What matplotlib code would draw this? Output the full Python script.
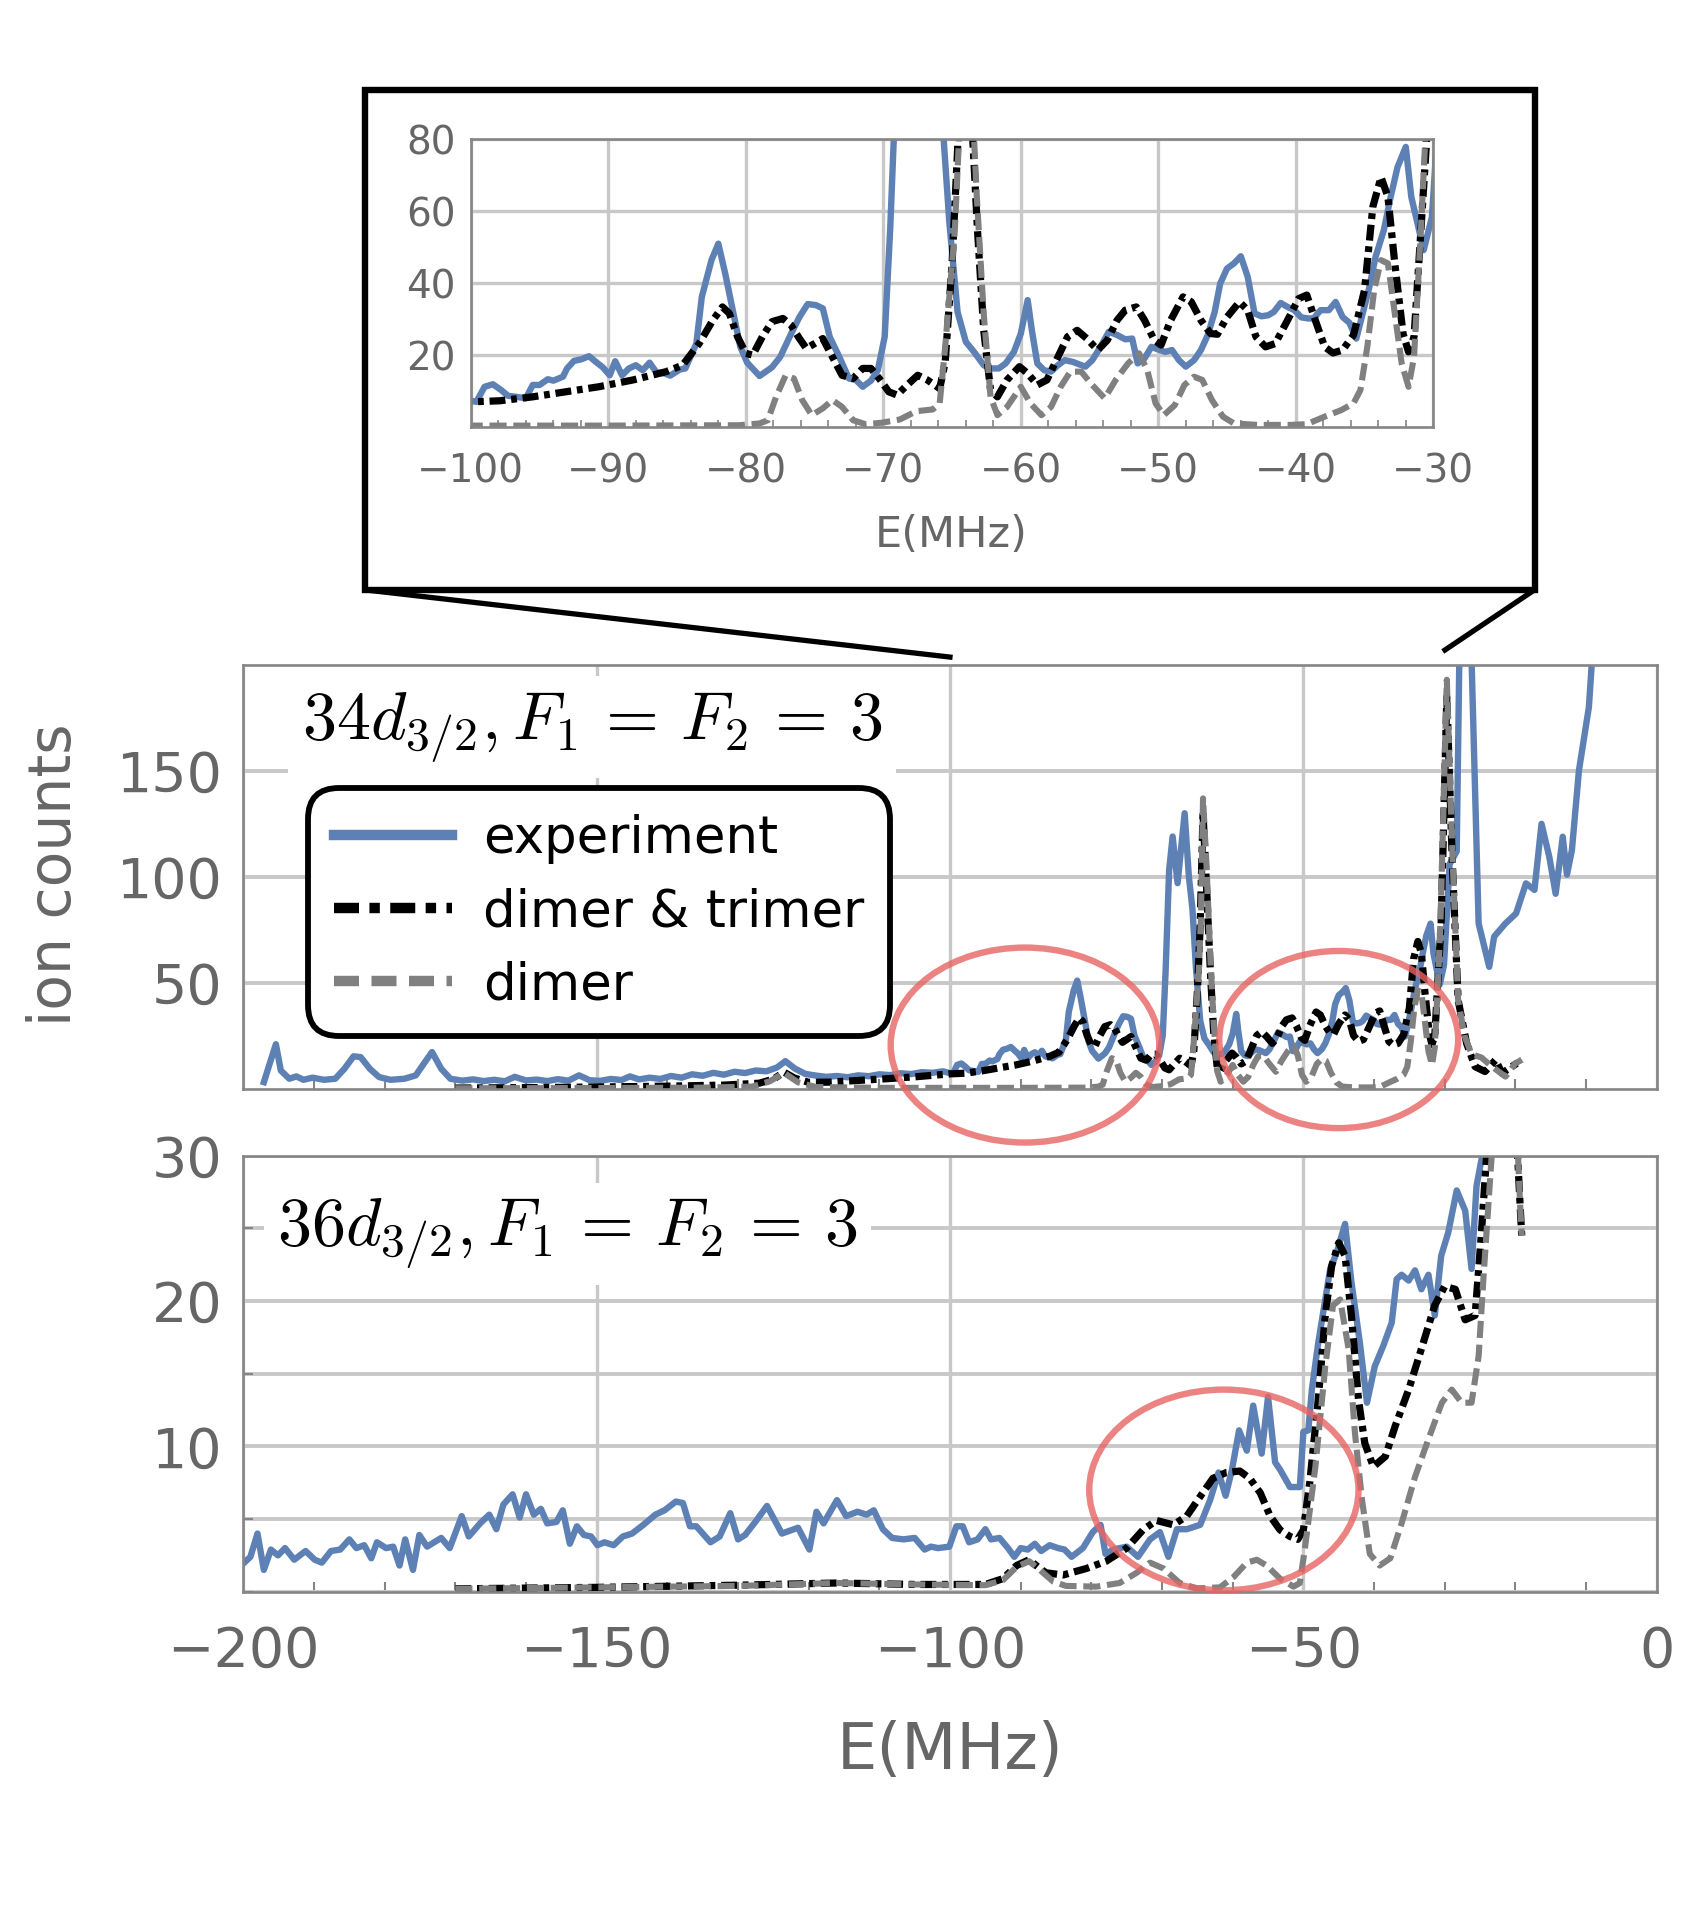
import matplotlib
matplotlib.use('Agg')
from matplotlib import pyplot as plt
from matplotlib.lines import Line2D
from matplotlib.patches import Ellipse, Rectangle
from matplotlib.ticker import MultipleLocator

plt.rcParams['font.family'] = ['DejaVu Sans']
plt.rcParams['mathtext.fontset'] = 'cm'

# 34d_{3/2} experiment (MHz, ion counts)
exp34_x = [-197.1, -195.4, -194.7, -193.5, -192.5, -191.5, -190.2, -188.6, -187.0, -185.7,
           -184.4, -183.4, -182.1, -180.8, -179.2, -177.2, -175.6, -174.3, -173.3, -172.0,
           -170.7, -169.0, -167.5, -166.0, -164.5, -163.0, -161.6, -160.0, -158.5, -157.0,
           -155.5, -154.0, -152.5, -151.0, -149.5, -148.0, -146.5, -145.3, -144.0, -142.5,
           -141.0, -139.5, -138.0, -136.5, -135.0, -133.5, -132.0, -130.5, -129.0, -127.5,
           -126.0, -124.5, -123.3, -122.0, -120.5, -119.0, -117.5, -116.0, -114.5, -113.0,
           -111.5, -110.0, -108.5, -107.0, -105.5, -104.0, -102.5, -101.0,
           -99.6, -99.0, -98.4, -97.8, -97.3, -96.7, -96.0, -95.5, -95.0, -94.4,
           -94.0, -93.3, -93.0, -92.5, -92.0, -91.4, -90.9, -90.4, -89.9, -89.5,
           -89.0, -88.5, -88.0, -87.5, -87.0, -86.5, -85.9, -85.5, -84.8, -84.4,
           -83.6, -83.2, -82.5, -82.0, -81.5, -81.0, -80.4, -79.9, -79.0, -78.1,
           -77.5, -76.7, -76.1, -75.5, -74.9, -74.4, -73.9, -73.2, -72.5, -72.0,
           -71.5, -70.9, -70.4, -69.9, -69.5, -69.0, -68.5, -67.8, -66.8, -66.2,
           -65.7, -65.2, -64.6, -64.0, -63.4, -62.7, -62.2, -61.6, -61.1, -60.5,
           -60.0, -59.5, -59.2, -58.8, -58.3, -57.8, -57.3, -56.8, -56.2, -55.8,
           -55.3, -54.8, -54.2, -53.6, -53.0, -52.4, -51.9, -51.5, -51.0, -50.5,
           -50.1, -49.5, -49.0, -48.5, -48.0, -47.4, -46.9, -46.4, -45.9, -45.5,
           -45.0, -44.5, -44.0, -43.5, -43.0, -42.5, -42.0, -41.6, -41.1, -40.6,
           -40.1, -39.6, -39.1, -38.7, -38.2, -37.6, -37.1, -36.6, -36.1, -35.6,
           -35.2, -34.7, -34.2, -33.6, -33.1, -32.6, -32.0, -31.6, -31.2, -30.7,
           -30.1, -29.3, -28.3, -27.7, -26.5, -25.2, -23.7, -23.0, -21.4, -19.9,
           -18.5, -17.3, -16.3, -15.2, -14.3, -13.3, -12.7, -12.0, -11.0, -9.6, -8.8]
exp34_y = [3.1, 21.0, 8.6, 4.7, 5.8, 4.2, 5.2, 4.2, 4.7, 9.4,
           15.3, 14.9, 9.4, 5.5, 4.2, 4.7, 6.3, 12.6, 17.3, 9.4,
           4.7, 3.8, 4.4, 3.6, 4.2, 3.5, 5.6, 3.9, 4.3, 3.6,
           4.5, 3.8, 6.3, 4.0, 3.7, 4.6, 4.1, 5.8, 4.4, 5.2,
           4.6, 6.0, 5.2, 6.8, 6.1, 7.5, 6.6, 8.0, 7.4, 8.6,
           8.2, 10.0, 13.0, 9.6, 7.0, 6.2, 5.6, 6.0, 5.4, 6.3,
           5.9, 6.8, 6.4, 7.3, 6.9, 7.8, 7.5, 8.2,
           7.0, 11.2, 11.9, 10.3, 8.7, 8.4, 8.0, 11.7, 11.7, 13.3,
           12.9, 14.0, 16.3, 18.4, 18.8, 19.7, 18.1, 16.6, 14.4, 18.3,
           14.4, 16.3, 17.2, 15.8, 17.9, 15.2, 14.9, 14.3, 16.0, 16.3,
           23.2, 36.2, 46.4, 51.0, 42.7, 33.4, 22.3, 17.9, 14.2, 16.6,
           19.5, 26.0, 30.6, 34.2, 33.9, 33.0, 25.1, 19.5, 13.5, 13.1,
           11.2, 12.9, 15.8, 25.1, 55.0, 103.0, 119.0, 97.0, 130.0, 100.0,
           85.0, 57.0, 32.0, 23.7, 20.9, 17.2, 16.3, 16.3, 17.7, 20.9,
           26.0, 35.3, 27.0, 17.7, 15.8, 15.4, 17.2, 18.6, 18.1, 17.5,
           16.8, 18.6, 22.3, 26.5, 25.6, 24.4, 24.6, 17.7, 19.1, 22.3,
           21.7, 20.9, 21.4, 18.6, 16.8, 18.6, 21.4, 25.6, 32.0, 39.9,
           44.1, 45.5, 47.5, 41.8, 31.6, 30.8, 31.1, 32.0, 34.5, 33.4,
           32.5, 30.5, 30.2, 30.2, 32.5, 32.5, 34.8, 30.6, 29.0, 24.6,
           30.6, 38.1, 47.3, 54.7, 64.0, 72.3, 77.9, 64.0, 57.5, 49.2,
           58.4, 106.0, 112.0, 260.0, 240.0, 78.0, 57.5, 71.8, 78.0, 82.7,
           96.9, 93.8, 125.0, 109.4, 92.0, 118.9, 101.0, 112.6, 150.3, 180.0, 220.0]

# 34d_{3/2} dimer & trimer model
dt34_x = [-170, -160, -150, -140, -132, -127, -125, -123.5, -122, -120,
          -117, -113, -109, -105, -100, -97.9, -95.5, -93.1, -90.7, -88.2,
          -85.8, -84.6, -83.4, -82.4, -81.7, -81.2, -80.6, -80.0, -79.5, -78.8,
          -78.1, -77.3, -76.7, -76.1, -75.6, -75.0, -74.4, -73.7, -73.0, -72.2,
          -71.5, -70.9, -70.3, -69.6, -69.0, -68.4, -67.5, -66.8, -65.9, -65.5,
          -65.0, -64.6, -64.2, -63.7, -63.15, -62.7, -62.2, -61.7, -61.0, -60.1,
          -59.5, -58.8, -58.1, -57.3, -56.6, -55.9, -55.2, -54.4, -53.7, -53.0,
          -52.4, -51.6, -51.0, -50.3, -49.8, -49.1, -48.2, -47.6, -46.9, -46.2,
          -45.7, -45.0, -44.1, -43.5, -42.9, -42.2, -41.5, -40.6, -39.8, -39.2,
          -38.5, -37.9, -37.3, -36.6, -35.8, -35.0, -34.4, -33.8, -33.3, -32.8,
          -32.2, -31.8, -31.4, -30.9, -30.5, -29.7, -28.9, -28.1, -26.9, -25.7,
          -24.3, -22.8, -21.9, -20.5, -19.1]
dt34_y = [0.3, 0.5, 0.8, 1.2, 1.7, 2.6, 4.5, 7.8, 5.0, 3.0,
          3.1, 3.9, 4.7, 5.6, 7.0, 7.3, 8.4, 9.8, 11.2, 13.1,
          15.4, 17.2, 23.2, 29.7, 33.4, 31.6, 25.1, 20.5, 20.0, 25.1,
          29.3, 30.2, 28.3, 24.6, 21.9, 23.2, 24.6, 19.5, 14.4, 13.5,
          16.3, 16.3, 13.5, 9.8, 8.9, 11.2, 14.4, 13.1, 10.7, 18.0,
          45.5, 77.0, 130.0, 95.0, 54.7, 27.0, 10.3, 8.4, 13.1, 16.8,
          14.9, 11.7, 13.1, 19.5, 25.1, 26.9, 24.6, 21.4, 24.2, 29.7,
          32.5, 33.4, 29.7, 24.2, 22.8, 29.7, 36.2, 34.8, 29.7, 26.0,
          25.8, 30.6, 34.8, 32.5, 25.1, 22.3, 23.2, 29.7, 35.7, 36.7,
          28.8, 22.3, 20.6, 21.4, 25.6, 38.1, 61.2, 69.5, 64.0, 45.5,
          26.0, 20.9, 25.1, 54.7, 78.8, 185.0, 105.0, 41.8, 21.4, 10.4,
          8.1, 13.6, 7.3, 10.4, 13.6]

# 34d_{3/2} dimer model
d34_x = [-170, -150, -135, -128, -125.5, -123.5, -121.5, -119, -110, -100,
         -90, -80.5, -79.0, -78.4, -77.8, -77.1, -76.5, -75.9, -75.2, -74.4,
         -73.7, -73.0, -72.2, -71.3, -70.1, -68.8, -67.6, -66.4, -65.9, -65.5,
         -64.8, -64.5, -64.2, -63.7, -63.2, -62.7, -62.2, -61.7, -61.0, -60.0,
         -59.3, -58.5, -57.8, -57.1, -56.4, -55.6, -54.9, -53.9, -53.1, -52.2,
         -51.4, -50.8, -50.2, -49.6, -48.8, -48.1, -47.4, -46.8, -46.1, -45.3,
         -44.5, -42.8, -40.4, -39.2, -37.9, -36.7, -35.8, -35.3, -34.8, -34.3,
         -33.8, -33.3, -32.8, -32.3, -31.8, -31.4, -30.9, -30.6, -29.7, -28.9,
         -28.1, -27.2, -26.2, -24.8, -23.3, -21.4, -20.0, -19.1]
d34_y = [0.2, 0.3, 0.5, 1.0, 3.5, 7.5, 3.0, 0.8, 0.4, 0.4,
         0.4, 0.5, 1.0, 1.9, 8.4, 14.4, 13.5, 7.5, 3.3, 5.2,
         7.5, 5.6, 1.9, 0.8, 1.2, 2.1, 4.4, 4.9, 6.6, 22.3,
         54.7, 80.0, 137.0, 105.0, 64.0, 31.6, 8.4, 3.3, 5.6, 11.2,
         6.6, 3.3, 5.6, 11.2, 15.4, 15.4, 12.1, 8.0, 13.1, 17.7,
         20.5, 15.8, 6.6, 3.3, 6.1, 11.7, 14.0, 13.1, 7.5, 2.9,
         1.0, 0.6, 0.6, 0.8, 2.9, 4.7, 6.6, 10.3, 22.3, 38.1,
         46.4, 45.5, 31.6, 17.7, 11.2, 19.5, 54.7, 78.8, 193.0, 110.0,
         41.8, 25.0, 16.3, 14.7, 10.4, 5.7, 12.0, 13.6]

# 36d_{3/2} experiment
exp36_x = [-200.0, -199.0, -198.0, -197.1, -196.1, -195.1, -194.1, -192.8, -191.2, -189.9,
           -188.9, -187.6, -186.3, -185.0, -184.0, -182.9, -181.9, -181.1, -179.8, -178.8,
           -177.9, -177.1, -176.0, -175.1, -174.0, -172.0, -170.8, -169.1, -168.1, -166.5,
           -165.2, -164.2, -163.2, -161.9, -160.9, -160.0, -158.9, -157.9, -157.0, -155.7,
           -154.8, -153.8, -152.8, -151.8, -150.8, -149.9, -148.9, -147.6, -146.3, -145.0,
           -143.4, -141.7, -140.4, -138.8, -137.8, -136.8, -135.9, -133.9, -132.6, -131.1,
           -130.0, -129.0, -127.4, -125.9, -123.8, -121.5, -119.9, -118.9, -117.9, -116.0,
           -114.7, -113.1, -111.8, -110.8, -109.5, -108.2, -106.6, -105.0, -103.6, -102.7,
           -101.7, -100.1, -99.1, -98.2, -97.3, -96.1, -95.0, -94.2, -93.0, -91.8,
           -90.9, -90.0, -89.0, -88.0, -87.1, -85.9, -84.7, -83.8, -82.8, -81.2,
           -79.8, -78.7, -78.0, -76.9, -75.0, -73.4, -71.7, -70.3, -69.1, -67.9,
           -66.5, -64.6, -63.2, -62.0, -61.0, -60.1, -59.1, -58.0, -57.1, -55.9,
           -55.0, -54.0, -53.3, -51.9, -50.5, -50.0, -49.3, -48.8, -47.9, -46.9,
           -46.2, -45.3, -44.1, -43.2, -42.0, -41.0, -39.9, -38.7, -37.5, -36.8,
           -36.1, -35.1, -34.2, -33.3, -32.3, -31.4, -30.5, -29.5, -28.3, -27.1,
           -26.2, -25.5, -24.3, -23.5]
exp36_y = [1.95, 2.4, 4.0, 1.5, 2.9, 2.5, 3.0, 2.2, 2.8, 2.2,
           2.0, 2.8, 2.9, 3.6, 3.0, 3.2, 2.3, 3.4, 3.0, 3.1,
           1.8, 3.6, 1.5, 3.9, 3.1, 3.7, 3.0, 5.2, 3.8, 4.7,
           5.3, 4.3, 6.0, 6.7, 5.1, 6.7, 5.3, 5.7, 4.7, 4.8,
           5.6, 3.3, 4.5, 3.9, 3.8, 3.2, 3.4, 3.2, 3.8, 4.0,
           4.6, 5.3, 5.6, 6.2, 6.1, 4.5, 4.5, 3.4, 3.8, 5.4,
           3.6, 3.9, 4.9, 5.9, 4.0, 4.4, 2.9, 5.5, 4.7, 6.3,
           5.2, 5.5, 5.3, 5.6, 4.3, 3.7, 3.6, 3.7, 2.9, 3.1,
           3.0, 3.1, 4.5, 4.5, 3.4, 3.6, 4.3, 3.6, 3.7, 3.0,
           2.4, 3.0, 2.9, 3.3, 2.8, 3.2, 3.0, 2.9, 2.4, 3.0,
           4.1, 4.6, 2.6, 2.9, 3.1, 2.4, 3.6, 4.1, 2.4, 4.3,
           4.3, 4.6, 6.3, 8.2, 6.6, 8.4, 11.1, 9.7, 12.8, 9.5,
           13.4, 8.9, 8.4, 7.2, 7.2, 11.0, 11.1, 13.9, 17.1, 20.1,
           22.2, 23.3, 25.3, 21.3, 17.1, 13.0, 15.5, 16.9, 18.5, 21.5,
           21.8, 21.4, 22.1, 20.8, 21.8, 19.0, 23.1, 24.7, 27.6, 26.2,
           22.2, 27.9, 31.0, 34.0]

# 36d_{3/2} dimer & trimer model
dt36_x = [-170, -150, -130, -116, -105, -95, -92.5, -90.6, -88.8, -87.3,
          -86.4, -84.0, -80.7, -77.9, -75.0, -72.7, -70.8, -68.4, -66.5, -64.6,
          -62.8, -60.9, -59.0, -57.6, -56.1, -54.7, -53.3, -51.9, -50.8, -50.0,
          -49.1, -47.9, -46.9, -46.0, -45.0, -44.1, -43.2, -42.2, -41.3, -40.1,
          -38.4, -37.0, -35.1, -33.3, -31.4, -30.0, -28.5, -27.1, -25.7, -24.8,
          -24.1, -23.0, -21.5, -20.0, -19.3, -19.1]
dt36_y = [0.2, 0.3, 0.45, 0.6, 0.5, 0.5, 0.9, 1.8, 2.2, 1.6,
          1.3, 1.15, 1.6, 2.1, 3.0, 4.25, 4.9, 4.6, 5.2, 6.55,
          7.8, 8.2, 8.3, 7.8, 6.8, 5.2, 4.25, 3.8, 3.6, 4.25,
          7.5, 13.2, 19.0, 22.4, 24.0, 23.1, 19.0, 13.2, 10.2, 8.6,
          9.3, 11.4, 13.9, 16.7, 19.7, 21.0, 20.8, 18.7, 19.0, 24.7,
          29.8, 36.0, 38.0, 33.0, 26.3, 24.5]

# 36d_{3/2} dimer model
d36_x = [-170, -150, -130, -116, -105, -95, -92.5, -90.6, -88.8, -87.3,
         -85.4, -83.6, -79.3, -76.0, -73.6, -71.7, -69.8, -67.5, -65.1, -61.8,
         -59.9, -58.0, -56.6, -55.2, -53.3, -51.4, -50.5, -49.8, -48.3, -46.9,
         -45.8, -44.8, -43.6, -42.7, -41.7, -40.6, -39.2, -37.7, -36.1, -34.2,
         -32.3, -30.4, -29.0, -27.6, -26.2, -25.2, -24.5, -23.6, -22.5, -21.0,
         -19.8, -19.3, -19.1]
d36_y = [0.2, 0.3, 0.4, 0.6, 0.5, 0.45, 0.8, 1.7, 2.1, 1.5,
         0.7, 0.4, 0.35, 0.6, 1.3, 2.0, 1.6, 0.6, 0.23, 0.3,
         1.0, 2.0, 2.2, 1.8, 0.9, 0.35, 0.6, 2.9, 8.6, 15.5,
         19.7, 20.1, 16.7, 10.9, 6.3, 2.6, 1.8, 2.3, 4.7, 7.9,
         10.5, 13.0, 13.9, 13.0, 13.0, 16.2, 21.7, 28.2, 36.0, 40.0,
         32.0, 26.3, 24.5]

BLUE = '#5e81b5'
GREY = '#808080'
TICK_GREY = '#666666'
GRID = '#c8c8c8'
RED = '#e86464'


def styleAxis(ax, labelSize):
    for spine in ax.spines.values():
        spine.set_color('#858585')
        spine.set_linewidth(1.9)
    ax.tick_params(which='both', direction='in', colors='#858585', labelcolor=TICK_GREY,
                   labelsize=labelSize)
    ax.tick_params(which='major', length=0)
    ax.tick_params(which='minor', length=7, width=1.5)
    ax.set_axisbelow(True)


fig = plt.figure(figsize=(16.90, 19.09), dpi=100)

axTop = fig.add_axes([0.1440, 0.4297, 0.8363, 0.2220])
axBot = fig.add_axes([0.1440, 0.1662, 0.8363, 0.2285])
axIn = fig.add_axes([0.2786, 0.7763, 0.5695, 0.1507])

lineStyles = dict(
    exp=dict(color=BLUE, lw=4.6),
    dt=dict(color='black', lw=5.2, dashes=(2.2, 0.8, 0.8, 0.8)),
    d=dict(color=GREY, lw=4.4, dashes=(2.8, 1.1)),
)

for ax in (axTop, axIn):
    ax.plot(exp34_x, exp34_y, **lineStyles['exp'])
    ax.plot(dt34_x, dt34_y, **lineStyles['dt'])
    ax.plot(d34_x, d34_y, **lineStyles['d'])

axBot.plot(exp36_x, exp36_y, **lineStyles['exp'])
axBot.plot(dt36_x, dt36_y, **lineStyles['dt'])
axBot.plot(d36_x, d36_y, **lineStyles['d'])

# main panels
for ax in (axTop, axBot):
    ax.set_xlim(-200, 0)
    ax.set_xticks([-200, -150, -100, -50, 0])
    ax.xaxis.set_minor_locator(MultipleLocator(10))
    ax.grid(axis='x', which='major', color=GRID, lw=2.4)
    styleAxis(ax, 40)

axTop.set_ylim(0, 200)
axTop.set_yticks([50, 100, 150])
axTop.grid(axis='y', which='major', color=GRID, lw=2.8)
axTop.tick_params(labelbottom=False)
axTop.tick_params(axis='y', pad=15)

axBot.set_ylim(0, 30)
axBot.set_yticks([10, 20, 30])
axBot.yaxis.set_minor_locator(MultipleLocator(5))
axBot.grid(axis='y', which='both', color=GRID, lw=2.8)
axBot.tick_params(axis='y', pad=15)
axBot.tick_params(axis='x', pad=24)

# inset
axIn.set_xlim(-100, -30)
axIn.set_ylim(0, 80)
axIn.set_xticks(range(-100, -29, 10))
axIn.set_yticks([20, 40, 60, 80])
axIn.xaxis.set_minor_locator(MultipleLocator(2))
axIn.grid(which='major', color=GRID, lw=2.4)
styleAxis(axIn, 28)
axIn.tick_params(which='minor', length=5, width=1.2)
axIn.tick_params(axis='x', pad=18)
axIn.tick_params(axis='y', pad=11)

# state labels
axTop.text(-191.7, 165, r'$34d_{3/2}, F_1 \,=\, F_2 \,=\, 3$', fontsize=49, color='black',
           bbox=dict(facecolor='white', edgecolor='none', pad=10), zorder=5)
axBot.text(-195.2, 23.8, r'$36d_{3/2}, F_1 \,=\, F_2 \,=\, 3$', fontsize=49, color='black',
           bbox=dict(facecolor='white', edgecolor='none', pad=10), zorder=5)

# legend
handles = [Line2D([], [], color=BLUE, lw=7.5),
           Line2D([], [], color='black', lw=7.5, dashes=(2.4, 1.0, 1.0, 1.0)),
           Line2D([], [], color=GREY, lw=7.5, dashes=(2.4, 1.2))]
leg = axTop.legend(handles, ['experiment', 'dimer & trimer', 'dimer'],
                   loc='upper left', bbox_to_anchor=(0.0458, 0.709), borderaxespad=0,
                   fontsize=37, handlelength=2.3, handletextpad=0.6, labelspacing=0.45,
                   borderpad=0.5, framealpha=1, fancybox=True)
frame = leg.get_frame()
frame.set_edgecolor('black')
frame.set_linewidth(4.2)
frame.set_boxstyle('round', pad=0.0, rounding_size=0.6)
leg.set_zorder(6)

# highlighted regions
ellipseStyle = dict(fill=False, edgecolor=RED, lw=4.6, alpha=0.8, clip_on=False, zorder=7)
axTop.add_patch(Ellipse((-89.4, 20.6), 38.0, 92.0, **ellipseStyle))
axTop.add_patch(Ellipse((-45.0, 23.2), 33.8, 83.6, **ellipseStyle))
axBot.add_patch(Ellipse((-61.25, 7.0), 38.1, 13.8, **ellipseStyle))

# axis labels
fig.text(0.562, 0.0828, 'E(MHz)', fontsize=46, color=TICK_GREY, ha='center', va='center')
fig.text(0.0325, 0.5416, 'ion counts', fontsize=42, color=TICK_GREY, ha='center', va='center',
         rotation=90)
fig.text(0.5627, 0.7198, 'E(MHz)', fontsize=31, color=TICK_GREY, ha='center', va='center')

# zoom box and connectors
fig.add_artist(Rectangle((0.216, 0.691), 0.908 - 0.216, 0.953 - 0.691, fill=False,
                         edgecolor='black', lw=4.6, transform=fig.transFigure))
fig.add_artist(Line2D([0.216, 0.5621], [0.691, 0.6558], color='black', lw=3.8,
                      transform=fig.transFigure))
fig.add_artist(Line2D([0.908, 0.855], [0.691, 0.6595], color='black', lw=3.8,
                      transform=fig.transFigure))

fig.savefig('out.png', dpi=100, facecolor='white')
